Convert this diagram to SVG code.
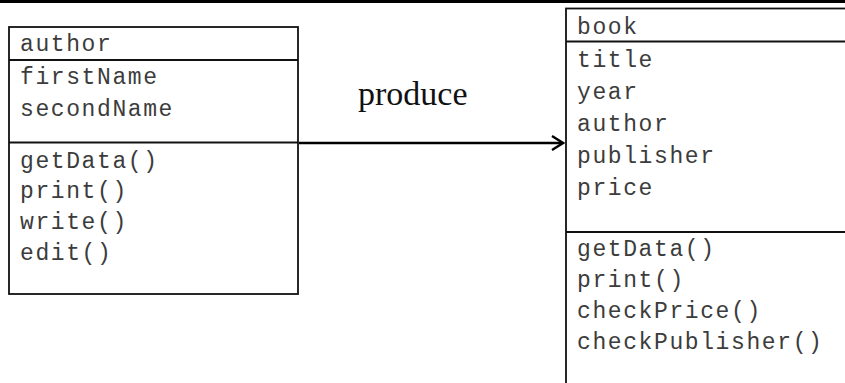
<svg xmlns="http://www.w3.org/2000/svg" width="845" height="383" viewBox="0 0 845 383">
<style>
.box{fill:#fff;stroke:#111;stroke-width:1.8}
.sep{stroke:#111;stroke-width:1.8}
.t{font-family:"Liberation Mono","Courier New",monospace;font-size:23px;letter-spacing:1.6px;fill:#3c3c3c}
.lbl{font-family:"Liberation Serif","Times New Roman",serif;font-size:34px;fill:#111}
.conn{stroke:#000;stroke-width:2.4;fill:none}
</style>
<defs>
<marker id="arr" markerWidth="14" markerHeight="16" refX="12" refY="8" orient="auto" markerUnits="userSpaceOnUse">
<path d="M1,1 L12,8 L1,15" fill="none" stroke="#000" stroke-width="2.4"/>
</marker>
</defs>
<rect width="845" height="383" fill="#fff"/>
<rect x="0" y="0" width="845" height="3" fill="#000"/>
<g id="connectors">
<line class="conn" x1="299" y1="143" x2="563" y2="143" marker-end="url(#arr)"/>
<text class="lbl" x="358" y="105">produce</text>
</g>
<g id="author">
<rect class="box" x="9" y="27" width="289" height="267"/>
<line class="sep" x1="9" y1="60" x2="298" y2="60"/>
<line class="sep" x1="9" y1="142.5" x2="298" y2="142.5"/>
<text class="t" x="20" y="51">author</text>
<text class="t" x="20" y="84">firstName</text>
<text class="t" x="20" y="116">secondName</text>
<text class="t" x="20" y="168">getData()</text>
<text class="t" x="20" y="198">print()</text>
<text class="t" x="20" y="229">write()</text>
<text class="t" x="20" y="260">edit()</text>
</g>
<g id="book">
<rect class="box" x="566" y="8.5" width="300" height="390"/>
<line class="sep" x1="566" y1="41.5" x2="845" y2="41.5"/>
<line class="sep" x1="566" y1="232" x2="845" y2="232"/>
<text class="t" x="577" y="34">book</text>
<text class="t" x="577" y="67">title</text>
<text class="t" x="577" y="99">year</text>
<text class="t" x="577" y="131">author</text>
<text class="t" x="577" y="163">publisher</text>
<text class="t" x="577" y="195">price</text>
<text class="t" x="577" y="256">getData()</text>
<text class="t" x="577" y="287">print()</text>
<text class="t" x="577" y="318">checkPrice()</text>
<text class="t" x="577" y="349">checkPublisher()</text>
</g>
</svg>
